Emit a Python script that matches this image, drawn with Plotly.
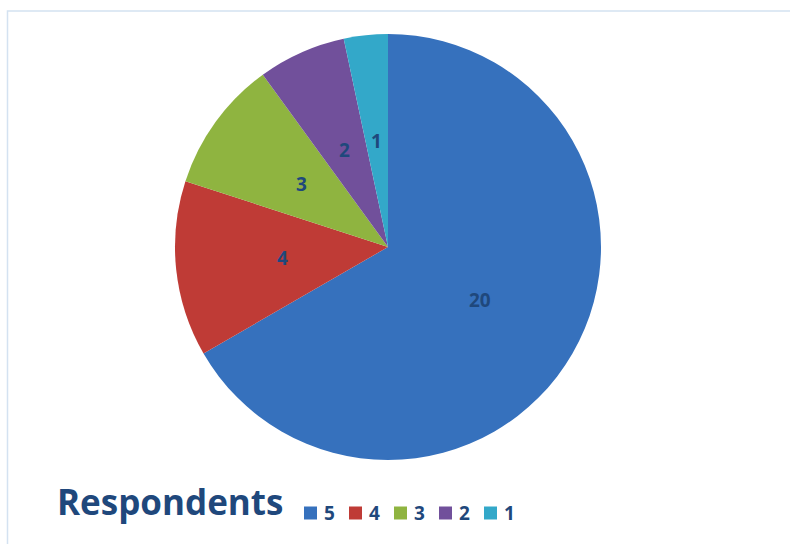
import math
import plotly.graph_objects as go

# Survey ratings and number of respondents giving each rating
ratings = ["5", "4", "3", "2", "1"]
respondents = [20, 4, 3, 2, 1]
slice_colors = ["#3671bd", "#bf3b36", "#8fb440", "#71509b", "#33a8c9"]

W, H = 790, 544
cx, cy, r = 388, 247, 213  # pie centre and radius in pixels
label_color = "#1f487c"
bold_font = "Open Sans"

fig = go.Figure(
    go.Pie(
        labels=ratings,
        values=respondents,
        sort=False,
        direction="clockwise",
        marker=dict(colors=slice_colors, line=dict(width=0)),
        textinfo="none",
        domain=dict(x=[(cx - r) / W, (cx + r) / W], y=[1 - (cy + r) / H, 1 - (cy - r) / H]),
        hoverinfo="label+value",
        showlegend=False,
    )
)

# Value labels sit halfway out along each slice's bisector
annotations = []
total = sum(respondents)
start = 0.0
for val in respondents:
    mid = (start + val / 2) / total * 2 * math.pi  # clockwise from 12 o'clock
    px = cx + 0.5 * r * math.sin(mid)
    py = cy - 0.5 * r * math.cos(mid)
    annotations.append(
        dict(
            text=f"<b>{val}</b>",
            x=px / W,
            y=1 - py / H,
            xref="paper",
            yref="paper",
            xanchor="center",
            yanchor="middle",
            showarrow=False,
            font=dict(family=bold_font, size=19, color=label_color),
        )
    )
    start += val

# Chart title at the lower left
annotations.append(
    dict(
        text="<b>Respondents</b>",
        x=55 / W,
        y=1 - 501 / H,
        xref="paper",
        yref="paper",
        xanchor="left",
        yanchor="middle",
        showarrow=False,
        font=dict(family=bold_font, size=35, color=label_color),
    )
)

# Compact horizontal key beside the title
shapes = []
key_x0, key_pitch, key_y = 304, 45, 513
for i, (lab, col) in enumerate(zip(ratings, slice_colors)):
    x = key_x0 + i * key_pitch
    shapes.append(
        dict(
            type="rect",
            xref="paper",
            yref="paper",
            x0=x / W,
            x1=(x + 13) / W,
            y0=1 - (key_y + 6.5) / H,
            y1=1 - (key_y - 6.5) / H,
            line=dict(width=0),
            fillcolor=col,
        )
    )
    annotations.append(
        dict(
            text=f"<b>{lab}</b>",
            x=(x + 18) / W,
            y=1 - key_y / H,
            xref="paper",
            yref="paper",
            xanchor="left",
            yanchor="middle",
            showarrow=False,
            font=dict(family=bold_font, size=19, color=label_color),
        )
    )

# Light outline around the chart area
shapes.append(
    dict(
        type="rect",
        xref="paper",
        yref="paper",
        x0=7.5 / W,
        x1=1.05,
        y0=-0.05,
        y1=1 - 11 / H,
        line=dict(color="#d4e2f1", width=1.5),
        fillcolor="rgba(0,0,0,0)",
        layer="below",
    )
)

fig.update_layout(
    width=W,
    height=H,
    margin=dict(l=0, r=0, t=0, b=0),
    paper_bgcolor="white",
    plot_bgcolor="white",
    annotations=annotations,
    shapes=shapes,
)

fig.write_html("out.html")
